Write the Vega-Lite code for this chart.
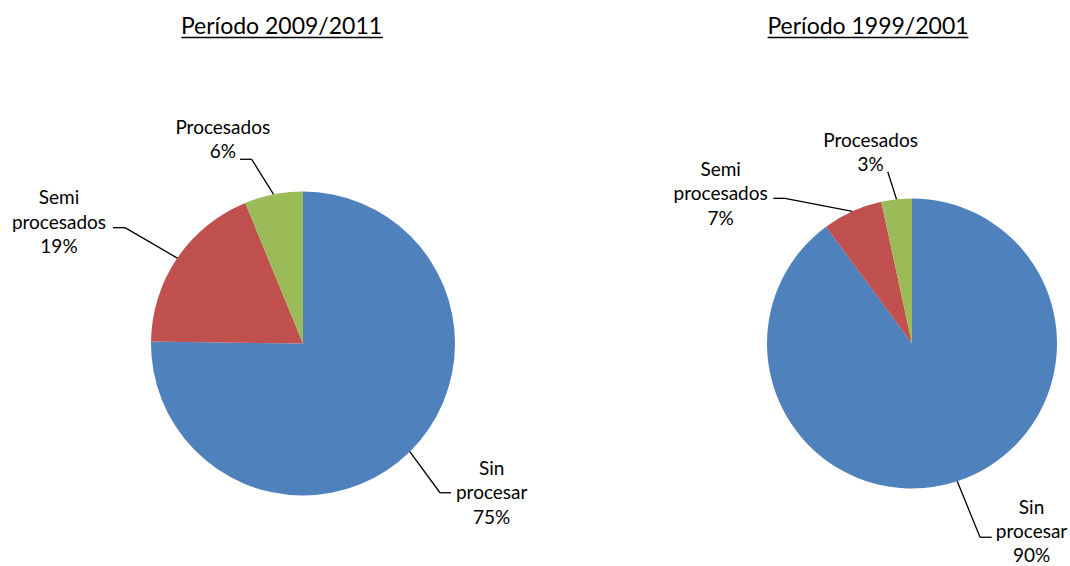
{
  "$schema": "https://vega.github.io/schema/vega-lite/v6.json",
  "padding": 0,
  "background": "white",
  "bounds": "flush",
  "spacing": 148,
  "config": {
    "view": {"stroke": null},
    "font": "Lato",
    "title": {"font": "Lato", "fontSize": 23, "fontWeight": "normal", "color": "#000000"},
    "text": {"font": "Lato", "fontSize": 19, "color": "#000000"}
  },
  "datasets": {
    "p2011": [
      {"categoria": "Sin procesar", "valor": 75.2, "orden": 1, "etiqueta": "Sin\nprocesar\n75%"},
      {"categoria": "Semi procesados", "valor": 18.6, "orden": 2, "etiqueta": "Semi\nprocesados\n19%"},
      {"categoria": "Procesados", "valor": 6.2, "orden": 3, "etiqueta": "Procesados\n6%"}
    ],
    "p2001": [
      {"categoria": "Sin procesar", "valor": 89.9, "orden": 1, "etiqueta": "Sin\nprocesar\n90%"},
      {"categoria": "Semi procesados", "valor": 6.7, "orden": 2, "etiqueta": "Semi\nprocesados\n7%"},
      {"categoria": "Procesados", "valor": 3.4, "orden": 3, "etiqueta": "Procesados\n3%"}
    ]
  },
  "hconcat": [
    {
      "width": 606,
      "height": 566,
      "title": {"text": "Período 2009/2011", "anchor": "middle", "frame": "group", "dx": -21.5, "offset": -39.3},
      "data": {"name": "p2011"},
      "transform": [
        {"stack": "valor", "groupby": [], "sort": [{"field": "orden", "order": "ascending"}], "as": ["v0", "v1"]},
        {"calculate": "sin(PI*(datum.v0+datum.v1)/100)", "as": "ex"},
        {"calculate": "cos(PI*(datum.v0+datum.v1)/100)", "as": "ey"}
      ],
      "encoding": {
        "x": {"field": "ex", "type": "quantitative", "axis": null, "scale": {"domain": [-1.993421, 1.993421], "nice": false, "zero": false}},
        "y": {"field": "ey", "type": "quantitative", "axis": null, "scale": {"domain": [-1.463816, 2.259868], "nice": false, "zero": false}}
      },
      "layer": [
        {
          "mark": {"type": "arc", "radius": 152},
          "encoding": {
            "x": {"datum": 0, "type": "quantitative"},
            "y": {"datum": 0, "type": "quantitative"},
            "theta": {"field": "v0", "type": "quantitative", "stack": null, "scale": {"domain": [0, 100]}},
            "theta2": {"field": "v1"},
            "color": {"field": "categoria", "type": "nominal", "legend": null,
              "scale": {"domain": ["Sin procesar", "Semi procesados", "Procesados"], "range": ["#4F81BD", "#C0504D", "#9BBB59"]}}
          }
        },
        {
          "transform": [{"filter": "datum.orden == 1"}],
          "mark": {"type": "rule", "color": "#000000", "strokeWidth": 1.6},
          "encoding": {
            "x": {"datum": -0.80, "type": "quantitative"},
            "x2": {"datum": 0.526},
            "y": {"datum": 2.01316, "type": "quantitative"}
          }
        },
        {
          "transform": [{"filter": "datum.orden == 1"}],
          "layer": [
            {"mark": {"type": "rule", "color": "#000000", "strokeWidth": 1.3, "x2Offset": 30.2, "y2Offset": 41.1},
             "encoding": {"x2": {"field": "ex"}, "y2": {"field": "ey"}}},
            {"mark": {"type": "rule", "color": "#000000", "strokeWidth": 1.3, "xOffset": 30.2, "x2Offset": 41.2, "yOffset": 41.1},
             "encoding": {"x2": {"field": "ex"}}},
            {"mark": {"type": "text", "dx": 81.9, "dy": 16.9, "align": "center", "baseline": "middle", "lineBreak": "\n", "lineHeight": 24.5},
             "encoding": {"text": {"field": "etiqueta"}}}
          ]
        },
        {
          "transform": [{"filter": "datum.orden == 2"}],
          "layer": [
            {"mark": {"type": "rule", "color": "#000000", "strokeWidth": 1.3, "x2Offset": -52.3, "y2Offset": -30.4},
             "encoding": {"x2": {"field": "ex"}, "y2": {"field": "ey"}}},
            {"mark": {"type": "rule", "color": "#000000", "strokeWidth": 1.3, "xOffset": -52.3, "x2Offset": -64.3, "yOffset": -30.4},
             "encoding": {"x2": {"field": "ex"}}},
            {"mark": {"type": "text", "dx": -118.3, "dy": -59.9, "align": "center", "baseline": "middle", "lineBreak": "\n", "lineHeight": 24.5},
             "encoding": {"text": {"field": "etiqueta"}}}
          ]
        },
        {
          "transform": [{"filter": "datum.orden == 3"}],
          "layer": [
            {"mark": {"type": "rule", "color": "#000000", "strokeWidth": 1.3, "x2Offset": -21.9, "y2Offset": -35.1},
             "encoding": {"x2": {"field": "ex"}, "y2": {"field": "ey"}}},
            {"mark": {"type": "rule", "color": "#000000", "strokeWidth": 1.3, "xOffset": -21.9, "x2Offset": -33.6, "yOffset": -35.1},
             "encoding": {"x2": {"field": "ex"}}},
            {"mark": {"type": "text", "dx": -50.8, "dy": -66.65, "align": "center", "baseline": "middle", "lineBreak": "\n", "lineHeight": 24.5},
             "encoding": {"text": {"field": "etiqueta"}}}
          ]
        }
      ]
    },
    {
      "width": 316,
      "height": 566,
      "title": {"text": "Período 1999/2001", "anchor": "middle", "frame": "group", "dx": -44, "offset": -39.3},
      "data": {"name": "p2001"},
      "transform": [
        {"stack": "valor", "groupby": [], "sort": [{"field": "orden", "order": "ascending"}], "as": ["v0", "v1"]},
        {"calculate": "sin(PI*(datum.v0+datum.v1)/100)", "as": "ex"},
        {"calculate": "cos(PI*(datum.v0+datum.v1)/100)", "as": "ey"}
      ],
      "encoding": {
        "x": {"field": "ex", "type": "quantitative", "axis": null, "scale": {"domain": [-1.089655, 1.089655], "nice": false, "zero": false}},
        "y": {"field": "ey", "type": "quantitative", "axis": null, "scale": {"domain": [-1.534483, 2.368966], "nice": false, "zero": false}}
      },
      "layer": [
        {
          "mark": {"type": "arc", "radius": 145},
          "encoding": {
            "x": {"datum": 0, "type": "quantitative"},
            "y": {"datum": 0, "type": "quantitative"},
            "theta": {"field": "v0", "type": "quantitative", "stack": null, "scale": {"domain": [0, 100]}},
            "theta2": {"field": "v1"},
            "color": {"field": "categoria", "type": "nominal", "legend": null,
              "scale": {"domain": ["Sin procesar", "Semi procesados", "Procesados"], "range": ["#4F81BD", "#C0504D", "#9BBB59"]}}
          }
        },
        {
          "transform": [{"filter": "datum.orden == 1"}],
          "mark": {"type": "rule", "color": "#000000", "strokeWidth": 1.6},
          "encoding": {
            "x": {"datum": -0.9959, "type": "quantitative"},
            "x2": {"datum": 0.389},
            "y": {"datum": 2.11034, "type": "quantitative"}
          }
        },
        {
          "transform": [{"filter": "datum.orden == 1"}],
          "layer": [
            {"mark": {"type": "rule", "color": "#000000", "strokeWidth": 1.3, "x2Offset": 22.8, "y2Offset": 56},
             "encoding": {"x2": {"field": "ex"}, "y2": {"field": "ey"}}},
            {"mark": {"type": "rule", "color": "#000000", "strokeWidth": 1.3, "xOffset": 22.8, "x2Offset": 34.5, "yOffset": 56},
             "encoding": {"x2": {"field": "ex"}}},
            {"mark": {"type": "text", "dx": 74.3, "dy": 26.5, "align": "center", "baseline": "middle", "lineBreak": "\n", "lineHeight": 24},
             "encoding": {"text": {"field": "etiqueta"}}}
          ]
        },
        {
          "transform": [{"filter": "datum.orden == 2"}],
          "layer": [
            {"mark": {"type": "rule", "color": "#000000", "strokeWidth": 1.3, "x2Offset": -67.3, "y2Offset": -13},
             "encoding": {"x2": {"field": "ex"}, "y2": {"field": "ey"}}},
            {"mark": {"type": "rule", "color": "#000000", "strokeWidth": 1.3, "xOffset": -67.3, "x2Offset": -79, "yOffset": -13},
             "encoding": {"x2": {"field": "ex"}}},
            {"mark": {"type": "text", "dx": -131.7, "dy": -41.8, "align": "center", "baseline": "middle", "lineBreak": "\n", "lineHeight": 24.5},
             "encoding": {"text": {"field": "etiqueta"}}}
          ]
        },
        {
          "transform": [{"filter": "datum.orden == 3"}],
          "layer": [
            {"mark": {"type": "rule", "color": "#000000", "strokeWidth": 1.3, "x2Offset": -8.8, "y2Offset": -27.6},
             "encoding": {"x2": {"field": "ex"}, "y2": {"field": "ey"}}},
            {"mark": {"type": "text", "dx": -26, "dy": -58.55, "align": "center", "baseline": "middle", "lineBreak": "\n", "lineHeight": 24.5},
             "encoding": {"text": {"field": "etiqueta"}}}
          ]
        }
      ]
    }
  ]
}
